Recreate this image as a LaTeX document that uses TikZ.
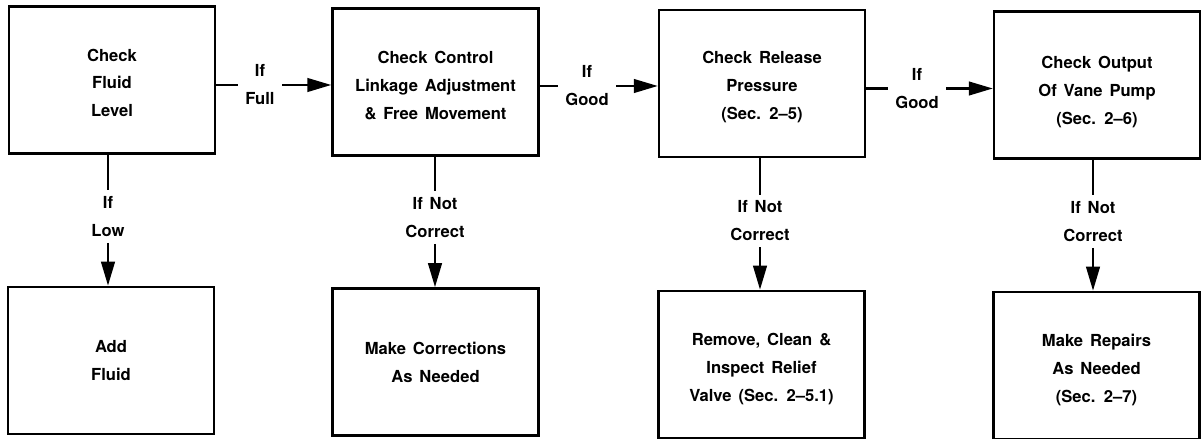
\documentclass[tikz,border=0pt]{standalone}
\usepackage{fontspec}
\setmainfont{TeX Gyre Heros}[WordSpace=1.5]
\usetikzlibrary{arrows.meta, positioning, calc}

% pushes the first line of a box down
\newcommand{\firstline}[1]{\rule{0pt}{#1}}

\begin{document}
\begin{tikzpicture}[
    box/.style={draw, line width=1.7pt, minimum width=5.15cm, minimum height=3.68cm, align=center, inner sep=0pt},
    cond/.style={align=center, inner xsep=0.18cm, inner ysep=0.15cm},
    wire/.style={line width=1.7pt},
    arr/.style={line width=1.7pt, -{Triangle[length=0.6cm, width=0.34cm]}},
    every node/.style={font=\fontsize{11.8}{19.9}\selectfont\bfseries}
]
\useasboundingbox (0,0) rectangle (30.1,10.975);

% checks, top row
\node [box] (box1) at (2.8,8.975) {\firstline{12.9pt}Check\\Fluid\\Level};
\node [box] (box2) at (10.8875,8.925) {\firstline{14.3pt}Check Control\\Linkage Adjustment\\\& Free Movement};
\node [box] (box3) at (19.05,8.8875) {\firstline{14.3pt}Check Release\\Pressure\\(Sec. 2--5)};
\node [box] (box4) at (27.425,8.85) {\firstline{18.6pt}Check Output\\Of Vane Pump\\(Sec. 2--6)};

% remedies, bottom row
\node [box] (box5) at (2.775,1.9625) {Add\\Fluid};
\node [box] (box6) at (10.8875,1.925) {Make Corrections\\As Needed};
\node [box] (box7) at (19.0375,1.8625) {\firstline{15.7pt}Remove, Clean \&\\Inspect Relief\\Valve (Sec. 2--5.1)};
\node [box] (box8) at (27.4125,1.8375) {\firstline{15.7pt}Make Repairs\\As Needed\\(Sec. 2--7)};

% conditions
\node [cond] (if_full) at (6.5,8.85) {If\\Full};
\node [cond] (if_good1) at (14.675,8.825) {If\\Good};
\node [cond] (if_good2) at (22.925,8.7625) {If\\Good};

\node [cond] (if_low) at (2.7,5.5625) {If\\Low};
\node [cond] (if_nc1) at (10.875,5.5375) {If Not\\Correct};
\node [cond] (if_nc2) at (19.0,5.45) {If Not\\Correct};
\node [cond] (if_nc3) at (27.325,5.4375) {If Not\\Correct};

% across
\draw [wire] (box1.east |- if_full) -- (if_full.west);
\draw [arr] (if_full.east) -- (box2.west |- if_full);
\draw [wire] (box2.east |- if_good1) -- (if_good1.west);
\draw [arr] (if_good1.east) -- (box3.west |- if_good1);
\draw [wire] (box3.east |- if_good2) -- (if_good2.west);
\draw [arr] (if_good2.east) -- (box4.west |- if_good2);

% down
\draw [wire] (if_low |- box1.south) -- (if_low.north);
\draw [arr] (if_low.south) -- (if_low |- box5.north);
\draw [wire] (if_nc1 |- box2.south) -- (if_nc1.north);
\draw [arr] (if_nc1.south) -- (if_nc1 |- box6.north);
\draw [wire] (if_nc2 |- box3.south) -- (if_nc2.north);
\draw [arr] (if_nc2.south) -- (if_nc2 |- box7.north);
\draw [wire] (if_nc3 |- box4.south) -- (if_nc3.north);
\draw [arr] (if_nc3.south) -- (if_nc3 |- box8.north);

\end{tikzpicture}
\end{document}
